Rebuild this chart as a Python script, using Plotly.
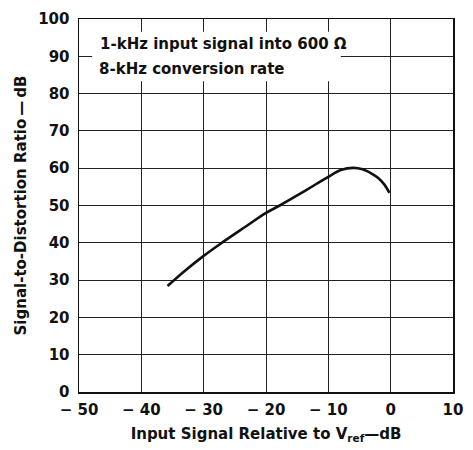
import plotly.graph_objects as go

# Data
input_db = [-35.8, -33, -30, -27, -23.3, -20, -17.8, -15, -12, -10, -8, -6, -4.5, -3, -2, -1, -0.2]
sdr_db = [28.4, 32.5, 36.5, 40.1, 44.3, 48, 50, 52.7, 55.7, 57.7, 59.5, 60.1, 59.7, 58.5, 57.4, 55.6, 53.4]

x_ticks = [-50, -40, -30, -20, -10, 0, 10]
x_ticktext = ["\u2212 50", "\u2212 40", "\u2212 30", "\u2212 20", "\u2212 10", "0", "10"]
y_ticks = [0, 10, 20, 30, 40, 50, 60, 70, 80, 90, 100]
y_ticktext = [str(v) for v in y_ticks]

note_lines = ["1-kHz input signal into 600 \u03a9", "8-kHz conversion rate"]

FONT = "DejaVu Sans"
INK = "#111111"

fig = go.Figure()
fig.add_trace(go.Scatter(
    x=input_db, y=sdr_db, mode="lines",
    line=dict(color=INK, width=2.6, shape="spline", smoothing=1.0),
    showlegend=False, hoverinfo="skip",
))

fig.update_layout(
    width=473, height=450,
    margin=dict(l=79, r=10, t=15, b=52),
    paper_bgcolor="white", plot_bgcolor="white",
    font=dict(family=FONT, size=15, color=INK, weight="bold"),
    xaxis=dict(
        range=[-50, 10], tickvals=x_ticks, ticktext=x_ticktext,
        showgrid=True, gridcolor="#222222", gridwidth=1,
        zeroline=False, showline=True, mirror=True, linecolor=INK, linewidth=1.5,
        ticks="outside", ticklen=3, tickcolor="rgba(0,0,0,0)",
        tickfont=dict(family=FONT, size=15, color=INK, weight="bold"),
        title=dict(text="Input Signal Relative to V<sub>ref</sub>\u2014dB",
                   font=dict(family=FONT, size=15, color=INK, weight="bold"), standoff=11),
    ),
    yaxis=dict(
        range=[0, 100], tickvals=y_ticks, ticktext=y_ticktext,
        showgrid=True, gridcolor="#222222", gridwidth=1,
        zeroline=False, showline=True, mirror=True, linecolor=INK, linewidth=1.5,
        ticks="outside", ticklen=5, tickcolor="rgba(0,0,0,0)",
        tickfont=dict(family=FONT, size=15, color=INK, weight="bold"),
        title=dict(text="Signal-to-Distortion Ratio\u2009\u2014\u2009dB",
                   font=dict(family=FONT, size=15, color=INK, weight="bold"), standoff=8),
    ),
    shapes=[dict(type="rect", xref="x", yref="y", x0=-47.9, x1=-8.0, y0=83.3, y1=96.6,
                 fillcolor="white", line=dict(width=0), layer="between")],
    annotations=[
        dict(text=note_lines[0], xref="x", yref="y", x=-47.0, y=93.2, xanchor="left", yanchor="middle",
             showarrow=False, font=dict(family=FONT, size=15, color=INK, weight="bold")),
        dict(text=note_lines[1], xref="x", yref="y", x=-47.1, y=86.7, xanchor="left", yanchor="middle",
             showarrow=False, font=dict(family=FONT, size=15, color=INK, weight="bold")),
    ],
)

fig.write_html(
    "out.html",
    config={"displayModeBar": False, "staticPlot": True},
    post_script="document.body.style.margin='0';document.body.style.overflow='hidden';"
                "document.documentElement.style.overflow='hidden';",
)
